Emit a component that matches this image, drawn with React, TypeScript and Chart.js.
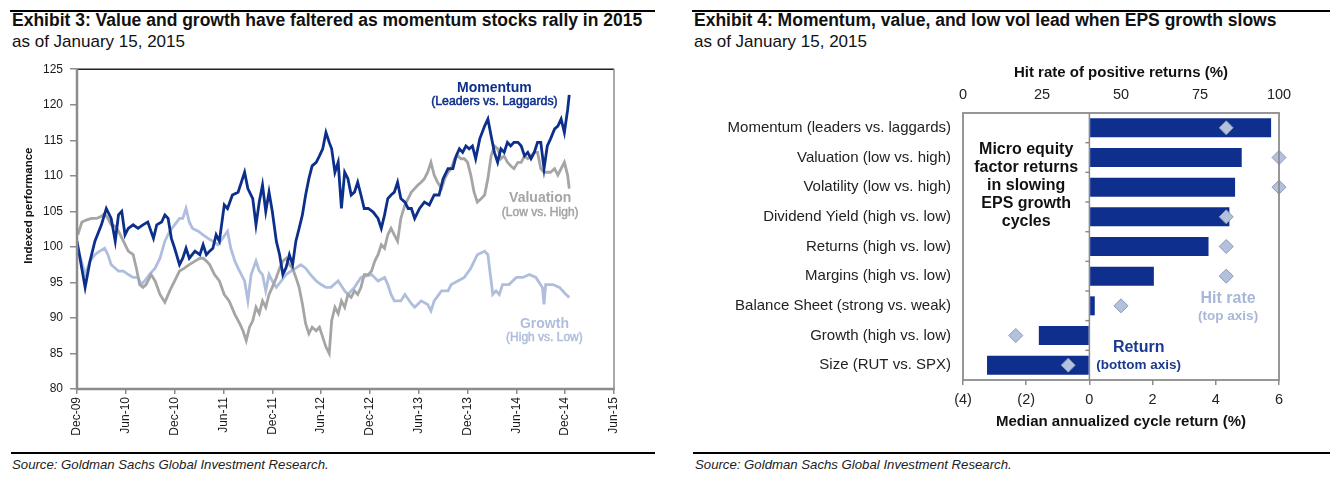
import React, { useEffect, useRef } from 'react';
import { Chart, registerables } from 'chart.js';

Chart.register(...registerables);

const FONT = '"Liberation Sans", Arial, Helvetica, sans-serif';
const NAVY = '#0d2f8c';
const VAL_GRAY = '#a5a5a5';
const GROWTH_BLUE = '#afbedc';
const HIT_BLUE = '#a9b7d7';
const AXIS_GRAY = '#8c8c8c';
const TEXT = '#1a1a1a';

// ---------- Exhibit 3 data (months since Dec-09, indexed level) ----------
const monthTickLabels = ['Dec-09', 'Jun-10', 'Dec-10', 'Jun-11', 'Dec-11', 'Jun-12', 'Dec-12', 'Jun-13', 'Dec-13', 'Jun-14', 'Dec-14', 'Jun-15'];

const momentumMonths = [0.0, 1.0, 1.6, 2.2, 3.0, 3.6, 4.2, 4.7, 5.1, 5.5, 5.9, 6.3, 6.9, 7.5, 8.1, 8.7, 9.4, 9.8, 10.4, 10.8, 11.2, 11.6, 12.0, 12.6, 13.0, 13.4, 13.8, 14.5, 15.1, 15.5, 15.9, 16.3, 16.7, 17.1, 17.5, 18.1, 18.5, 19.1, 19.8, 20.2, 20.6, 21.0, 21.6, 22.0, 22.4, 22.8, 23.2, 23.6, 24.0, 24.5, 24.9, 25.3, 25.7, 26.1, 26.5, 26.9, 27.3, 27.7, 28.1, 28.5, 28.9, 29.4, 29.8, 30.2, 30.6, 31.0, 31.3, 31.7, 32.1, 32.5, 32.9, 33.3, 33.7, 34.1, 34.5, 34.9, 35.3, 35.8, 36.4, 37.0, 37.4, 37.8, 38.2, 38.6, 39.0, 39.4, 39.8, 40.3, 40.7, 41.1, 41.5, 42.1, 42.7, 43.3, 43.9, 44.5, 45.0, 45.6, 46.2, 46.6, 47.0, 47.4, 47.8, 48.2, 48.6, 49.0, 49.5, 50.1, 50.5, 50.9, 51.3, 51.7, 52.1, 52.5, 52.9, 53.3, 53.7, 54.2, 54.6, 55.0, 55.4, 55.8, 56.2, 56.6, 57.0, 57.4, 57.8, 58.2, 58.7, 59.1, 59.5, 59.9, 60.3, 60.5];
const momentumValues = [100.8, 94.3, 98.0, 100.8, 103.1, 105.4, 104.0, 100.8, 104.5, 105.0, 101.7, 102.6, 103.1, 102.6, 103.1, 103.5, 101.2, 103.1, 103.5, 104.5, 104.0, 101.2, 99.8, 97.5, 98.4, 99.8, 98.4, 99.4, 98.9, 100.3, 98.9, 99.4, 99.8, 101.7, 100.8, 105.9, 105.4, 107.3, 107.7, 109.1, 110.5, 108.2, 106.8, 103.1, 106.3, 108.7, 105.0, 107.7, 105.0, 100.8, 98.9, 96.1, 97.1, 98.9, 97.5, 100.8, 102.6, 104.5, 107.3, 109.6, 111.4, 111.9, 112.8, 113.8, 116.1, 114.7, 113.8, 110.5, 111.9, 105.4, 110.5, 109.6, 107.3, 107.7, 109.1, 107.3, 105.4, 105.4, 104.9, 104.0, 102.6, 104.5, 106.8, 107.3, 107.7, 109.1, 106.8, 106.3, 105.4, 105.4, 104.0, 105.4, 106.3, 105.9, 107.3, 107.3, 109.6, 111.0, 111.0, 112.8, 113.8, 113.3, 114.2, 113.8, 114.2, 112.4, 115.2, 117.0, 118.0, 115.6, 113.3, 111.9, 113.8, 113.3, 114.7, 114.2, 114.7, 114.7, 114.2, 112.8, 113.3, 112.4, 113.3, 114.7, 114.7, 111.0, 114.2, 115.2, 116.6, 117.0, 118.0, 116.1, 119.3, 121.4];

const valuationMonths = [0.1, 0.6, 1.2, 1.8, 2.4, 3.0, 3.4, 3.8, 4.2, 4.7, 5.1, 5.7, 6.3, 6.9, 7.3, 7.7, 8.1, 8.5, 9.1, 9.6, 10.2, 10.8, 11.4, 12.0, 12.6, 13.2, 13.8, 14.5, 15.1, 15.5, 15.9, 16.3, 16.9, 17.5, 18.1, 18.7, 19.4, 20.0, 20.4, 20.8, 21.2, 21.6, 22.0, 22.4, 22.8, 23.2, 23.6, 24.0, 24.5, 24.9, 25.3, 25.7, 26.1, 26.5, 26.9, 27.3, 27.7, 28.1, 28.5, 28.9, 29.4, 29.8, 30.2, 30.6, 31.0, 31.3, 31.7, 32.1, 32.5, 32.9, 33.3, 33.7, 34.1, 34.5, 34.9, 35.3, 35.8, 36.2, 36.6, 37.0, 37.4, 37.8, 38.2, 38.6, 39.0, 39.4, 39.8, 40.3, 40.7, 41.1, 41.5, 41.9, 42.3, 42.7, 43.1, 43.5, 43.9, 44.3, 44.8, 45.2, 45.6, 46.0, 46.4, 46.8, 47.2, 47.6, 48.0, 48.4, 48.8, 49.2, 49.7, 50.1, 50.5, 50.9, 51.3, 51.7, 52.1, 52.5, 52.9, 53.3, 53.7, 54.2, 54.6, 55.0, 55.4, 55.8, 56.2, 56.6, 57.0, 57.4, 57.8, 58.2, 58.7, 59.1, 59.5, 59.9, 60.3, 60.5];
const valuationValues = [101.7, 103.5, 103.8, 104.0, 104.0, 104.3, 104.7, 104.0, 103.1, 102.9, 102.2, 100.8, 99.4, 98.9, 97.0, 94.7, 94.3, 94.7, 96.1, 95.2, 93.3, 92.2, 93.8, 95.2, 96.6, 97.0, 97.5, 98.0, 98.4, 98.4, 98.0, 97.5, 96.1, 95.2, 93.3, 92.4, 90.5, 89.2, 88.2, 86.8, 88.7, 89.6, 91.5, 90.6, 92.4, 91.5, 93.3, 94.3, 95.7, 97.0, 98.0, 98.4, 97.5, 97.0, 95.7, 94.3, 92.0, 89.2, 87.8, 88.7, 88.2, 88.7, 87.3, 85.9, 85.0, 89.6, 91.5, 90.6, 92.4, 91.5, 93.3, 92.9, 93.8, 93.3, 94.3, 96.1, 96.1, 96.6, 98.0, 98.9, 100.3, 99.8, 101.7, 102.6, 101.7, 100.8, 104.0, 105.9, 106.8, 107.7, 108.2, 108.7, 109.1, 109.6, 110.5, 111.9, 110.1, 109.1, 108.2, 109.6, 110.5, 111.0, 112.4, 112.8, 112.4, 112.4, 111.9, 110.1, 107.7, 106.3, 106.8, 107.3, 109.6, 112.8, 114.2, 113.8, 112.4, 112.8, 111.9, 111.4, 111.0, 111.9, 111.9, 112.8, 112.4, 112.8, 113.3, 113.3, 111.0, 110.5, 110.5, 110.5, 111.0, 110.1, 111.0, 111.9, 110.1, 108.2];

const growthMonths = [0.0, 1.0, 1.6, 2.2, 2.8, 3.4, 3.8, 4.2, 4.7, 5.1, 5.7, 6.3, 6.9, 7.5, 7.9, 8.3, 8.9, 9.6, 10.2, 10.8, 11.4, 12.0, 12.6, 13.0, 13.4, 13.8, 14.2, 14.9, 15.5, 16.1, 16.7, 17.3, 17.9, 18.5, 18.9, 19.4, 19.8, 20.2, 20.6, 21.0, 21.4, 22.0, 22.4, 22.8, 23.2, 23.6, 24.0, 24.5, 25.1, 25.7, 26.3, 26.9, 27.5, 28.1, 28.7, 29.4, 30.0, 30.6, 31.2, 32.1, 32.9, 33.3, 34.1, 34.9, 36.2, 37.0, 37.8, 38.2, 38.6, 39.0, 39.8, 40.3, 41.1, 41.5, 42.3, 43.1, 43.5, 43.9, 44.8, 45.6, 46.0, 46.8, 47.6, 48.4, 49.2, 50.1, 50.5, 50.7, 50.9, 51.1, 51.5, 51.9, 52.3, 53.1, 54.0, 54.8, 55.6, 56.4, 57.2, 57.4, 57.6, 58.5, 59.3, 60.1, 60.5];
const growthValues = [100.3, 96.1, 98.0, 98.9, 99.4, 99.8, 98.9, 97.5, 97.0, 96.6, 96.6, 96.1, 95.7, 95.7, 94.7, 95.2, 96.1, 97.0, 98.4, 100.8, 102.2, 103.1, 104.0, 104.0, 105.4, 103.5, 102.6, 102.2, 101.7, 101.2, 100.8, 100.3, 101.2, 102.2, 99.8, 98.0, 97.0, 96.1, 95.2, 92.4, 96.1, 98.0, 96.6, 96.1, 93.8, 96.1, 95.2, 94.3, 95.2, 96.1, 96.6, 97.0, 97.5, 97.0, 96.1, 95.2, 94.7, 94.3, 94.3, 95.2, 93.8, 93.3, 94.3, 95.7, 96.1, 95.2, 95.7, 94.7, 93.3, 92.4, 92.4, 93.3, 92.0, 91.5, 92.4, 91.9, 91.0, 92.4, 93.8, 93.8, 94.7, 95.2, 95.7, 97.0, 98.9, 99.4, 98.9, 97.0, 95.2, 93.3, 93.8, 93.3, 94.7, 94.7, 95.7, 95.7, 96.1, 95.7, 94.3, 91.9, 94.7, 94.7, 94.3, 93.3, 92.9];

// ---------- Exhibit 4 data ----------
const factorLabels = [
  'Momentum (leaders vs. laggards)',
  'Valuation (low vs. high)',
  'Volatility (low vs. high)',
  'Dividend Yield (high vs. low)',
  'Returns (high vs. low)',
  'Margins (high vs. low)',
  'Balance Sheet (strong vs. weak)',
  'Growth (high vs. low)',
  'Size (RUT vs. SPX)',
];
const medianCycleReturn = [5.75, 4.82, 4.61, 4.43, 3.77, 2.04, 0.17, -1.6, -3.24];
const hitRatePct = [83.3, 100, 100, 83.3, 83.3, 83.3, 50, 16.7, 33.3];
const sideNoteLines = ['Micro equity', 'factor returns', 'in slowing', 'EPS growth', 'cycles'];

function strokeLine(ctx: CanvasRenderingContext2D, x1: number, y1: number, x2: number, y2: number) {
  ctx.beginPath();
  ctx.moveTo(x1, y1);
  ctx.lineTo(x2, y2);
  ctx.stroke();
}

function Exhibit3Chart() {
  const ref = useRef<HTMLCanvasElement>(null);
  useEffect(() => {
    const toPts = (ms: number[], vs: number[]) => ms.map((m, i) => ({ x: m, y: vs[i] }));
    const framePlugin = {
      id: 'frame3',
      afterDatasetsDraw(chart: any) {
        const { ctx, chartArea: a } = chart;
        ctx.save();
        ctx.strokeStyle = '#222';
        ctx.lineWidth = 1.5;
        strokeLine(ctx, a.left, a.top, a.right, a.top);
        ctx.strokeStyle = AXIS_GRAY;
        strokeLine(ctx, a.right, a.top, a.right, a.bottom);
        ctx.lineWidth = 2.5;
        strokeLine(ctx, a.left, a.top - 0.75, a.left, a.bottom + 1);
        strokeLine(ctx, a.left - 1, a.bottom, a.right + 0.75, a.bottom);
        ctx.restore();
      },
    };
    const labelPlugin = {
      id: 'labels3',
      afterDraw(chart: any) {
        const { ctx } = chart;
        const xs = chart.scales.x;
        const ys = chart.scales.y;
        const put = (t: string, m: number, v: number, color: string, font: string, thicken = false) => {
          ctx.fillStyle = color;
          ctx.font = font;
          ctx.textAlign = 'center';
          ctx.textBaseline = 'middle';
          const px = xs.getPixelForValue(m);
          const py = ys.getPixelForValue(v);
          ctx.fillText(t, px, py);
          if (thicken) {
            ctx.strokeStyle = color;
            ctx.lineWidth = 0.5;
            ctx.strokeText(t, px, py);
          }
        };
        ctx.save();
        put('Momentum', 51.3, 122.35, NAVY, `bold 14px ${FONT}`);
        put('(Leaders vs. Laggards)', 51.3, 120.4, NAVY, `12.3px ${FONT}`, true);
        put('Valuation', 56.93, 106.8, VAL_GRAY, `bold 14px ${FONT}`);
        put('(Low vs. High)', 56.93, 104.85, VAL_GRAY, `12px ${FONT}`, true);
        put('Growth', 57.45, 89.15, GROWTH_BLUE, `bold 14px ${FONT}`);
        put('(High vs. Low)', 57.45, 87.15, GROWTH_BLUE, `12px ${FONT}`, true);
        // y-axis title
        const a = chart.chartArea;
        ctx.translate(a.left - 48, ys.getPixelForValue(105.8));
        ctx.rotate(-Math.PI / 2);
        ctx.fillStyle = '#111';
        ctx.font = `bold 11.5px ${FONT}`;
        ctx.fillText('Indexed performance', 0, 0);
        ctx.restore();
      },
    };
    const chart = new Chart(ref.current as HTMLCanvasElement, {
      type: 'line',
      data: {
        datasets: [
          { label: 'Momentum', data: toPts(momentumMonths, momentumValues), borderColor: NAVY, borderWidth: 2.8, pointRadius: 0, tension: 0 },
          { label: 'Valuation', data: toPts(valuationMonths, valuationValues), borderColor: VAL_GRAY, borderWidth: 2.8, pointRadius: 0, tension: 0 },
          { label: 'Growth', data: toPts(growthMonths, growthValues), borderColor: GROWTH_BLUE, borderWidth: 2.8, pointRadius: 0, tension: 0 },
        ],
      },
      options: {
        animation: false,
        responsive: false,
        devicePixelRatio: 1,
        events: [],
        layout: { padding: { top: 11, right: 46, left: 0, bottom: 0 } },
        plugins: { legend: { display: false }, tooltip: { enabled: false } },
        scales: {
          x: {
            type: 'linear',
            min: 0,
            max: 66,
            afterFit: (s: any) => { s.height = 56; },
            border: { display: false },
            grid: { drawOnChartArea: false, drawTicks: true, tickLength: 5, color: AXIS_GRAY, lineWidth: 1.5 },
            ticks: {
              stepSize: 6,
              autoSkip: false,
              maxRotation: 90,
              minRotation: 90,
              padding: 3,
              color: TEXT,
              font: { family: FONT, size: 12 },
              callback: (v: any) => monthTickLabels[Math.round(Number(v) / 6)] ?? '',
            },
          },
          y: {
            type: 'linear',
            min: 80,
            max: 125,
            afterFit: (s: any) => { s.width = 77; },
            border: { display: false },
            grid: { drawOnChartArea: false, drawTicks: true, tickLength: 7, color: AXIS_GRAY, lineWidth: 1.5 },
            ticks: { stepSize: 5, padding: 7, color: TEXT, font: { family: FONT, size: 12 } },
          },
        },
      },
      plugins: [framePlugin, labelPlugin],
    } as any);
    return () => chart.destroy();
  }, []);
  return <canvas ref={ref} width={660} height={390} style={{ position: 'absolute', left: 0, top: 55, width: 660, height: 390 }} />;
}

function Exhibit4Chart() {
  const ref = useRef<HTMLCanvasElement>(null);
  useEffect(() => {
    const zeroPlugin = {
      id: 'zero4',
      beforeDatasetsDraw(chart: any) {
        const { ctx, chartArea: a } = chart;
        const xs = chart.scales.x;
        const ys = chart.scales.y;
        const x0 = xs.getPixelForValue(0);
        ctx.save();
        ctx.strokeStyle = AXIS_GRAY;
        ctx.lineWidth = 1.5;
        strokeLine(ctx, x0, a.top, x0, a.bottom);
        for (let i = 1; i < factorLabels.length; i++) {
          const yb = (ys.getPixelForValue(i - 1) + ys.getPixelForValue(i)) / 2;
          strokeLine(ctx, x0 - 4, yb, x0, yb);
        }
        ctx.restore();
      },
    };
    const framePlugin = {
      id: 'frame4',
      afterDatasetsDraw(chart: any) {
        const { ctx, chartArea: a } = chart;
        ctx.save();
        ctx.strokeStyle = AXIS_GRAY;
        ctx.lineWidth = 1.8;
        ctx.strokeRect(a.left, a.top, a.right - a.left, a.bottom - a.top);
        ctx.restore();
      },
      afterDraw(chart: any) {
        const { ctx, chartArea: a } = chart;
        const xs = chart.scales.x;
        const ys = chart.scales.y;
        ctx.save();
        ctx.textAlign = 'center';
        ctx.textBaseline = 'middle';
        ctx.fillStyle = '#111';
        ctx.font = `bold 16px ${FONT}`;
        const cx = xs.getPixelForValue(-2);
        sideNoteLines.forEach((t, k) => {
          ctx.fillText(t, cx, a.top + 36.5 + k * 18.1);
        });
        ctx.fillStyle = HIT_BLUE;
        ctx.font = `bold 16px ${FONT}`;
        ctx.fillText('Hit rate', xs.getPixelForValue(4.39), ys.getPixelForValue(5.77));
        ctx.font = `bold 13.5px ${FONT}`;
        ctx.fillText('(top axis)', xs.getPixelForValue(4.39), ys.getPixelForValue(6.34));
        ctx.fillStyle = '#1b3a8f';
        ctx.font = `bold 16px ${FONT}`;
        ctx.fillText('Return', xs.getPixelForValue(1.56), ys.getPixelForValue(7.42));
        ctx.font = `bold 13.5px ${FONT}`;
        ctx.fillText('(bottom axis)', xs.getPixelForValue(1.56), ys.getPixelForValue(7.99));
        ctx.restore();
      },
    };
    const chart = new Chart(ref.current as HTMLCanvasElement, {
      type: 'bar',
      data: {
        labels: factorLabels,
        datasets: [
          {
            type: 'line',
            label: 'Hit rate',
            data: hitRatePct.map((v, i) => ({ x: v, y: factorLabels[i] })),
            xAxisID: 'x2',
            yAxisID: 'y',
            indexAxis: 'y',
            showLine: false,
            pointStyle: 'rectRot',
            pointRadius: 7,
            pointBackgroundColor: '#b4c1dd',
            pointBorderColor: '#8797bb',
            pointBorderWidth: 1,
            clip: false,
            order: 0,
          },
          {
            type: 'bar',
            label: 'Return',
            data: medianCycleReturn,
            xAxisID: 'x',
            yAxisID: 'y',
            backgroundColor: '#0e2f8d',
            borderWidth: 0,
            categoryPercentage: 1,
            barPercentage: 0.64,
            order: 1,
          },
        ],
      },
      options: {
        indexAxis: 'y',
        animation: false,
        responsive: false,
        devicePixelRatio: 1,
        events: [],
        layout: { padding: { top: 0, right: 56, left: 0, bottom: 0 } },
        plugins: { legend: { display: false }, tooltip: { enabled: false } },
        scales: {
          y: {
            type: 'category',
            position: 'left',
            afterFit: (s: any) => { s.width = 283; },
            border: { display: false },
            grid: { display: false, drawTicks: false },
            ticks: { autoSkip: false, padding: 12, color: '#222', font: { family: FONT, size: 15 } },
          },
          x: {
            type: 'linear',
            position: 'bottom',
            min: -4,
            max: 6,
            afterFit: (s: any) => { s.height = 60; },
            border: { display: false },
            grid: { drawOnChartArea: false, drawTicks: true, tickLength: 5, color: AXIS_GRAY, lineWidth: 1.5 },
            ticks: {
              stepSize: 2,
              padding: 6,
              color: '#222',
              font: { family: FONT, size: 14.5 },
              callback: (v: any) => (Number(v) < 0 ? `(${-Number(v)})` : `${v}`),
            },
            title: {
              display: true,
              text: 'Median annualized cycle return (%)',
              color: '#111',
              font: { family: FONT, size: 15, weight: 'bold' },
              padding: { top: 0, bottom: 9.5 },
            },
          },
          x2: {
            type: 'linear',
            position: 'top',
            min: 0,
            max: 100,
            afterFit: (s: any) => { s.height = 58; },
            border: { display: false },
            grid: { display: false, drawTicks: false },
            ticks: { stepSize: 25, padding: 9, color: '#222', font: { family: FONT, size: 14.5 } },
            title: {
              display: true,
              text: 'Hit rate of positive returns (%)',
              color: '#111',
              font: { family: FONT, size: 15, weight: 'bold' },
              padding: { top: 9, bottom: 0 },
            },
          },
        },
      },
      plugins: [zeroPlugin, framePlugin],
    } as any);
    return () => chart.destroy();
  }, []);
  return <canvas ref={ref} width={655} height={385} style={{ position: 'absolute', left: 680, top: 55, width: 655, height: 385 }} />;
}

const abs = (left: number, top: number, extra: React.CSSProperties = {}): React.CSSProperties => ({
  position: 'absolute',
  left,
  top,
  whiteSpace: 'nowrap',
  fontFamily: FONT,
  color: '#111',
  ...extra,
});

export default function App() {
  return (
    <div style={{ position: 'fixed', left: 0, top: 0, width: 1335, height: 477, background: '#fff', overflow: 'hidden' }}>
      {/* Exhibit 3 */}
      <div style={abs(10, 10, { width: 645, height: 2, background: '#000' })} />
      <div style={abs(12, 12.2, { fontSize: 17.5, lineHeight: '17.5px', fontWeight: 'bold' })}>
        Exhibit 3: Value and growth have faltered as momentum stocks rally in 2015
      </div>
      <div style={abs(12, 32.6, { fontSize: 17, lineHeight: '17px' })}>as of January 15, 2015</div>
      <Exhibit3Chart />
      <div style={abs(11, 452, { width: 644, height: 2, background: '#000' })} />
      <div style={abs(12, 458, { fontSize: 13.2, lineHeight: '13.2px', fontStyle: 'italic', color: '#222' })}>
        Source: Goldman Sachs Global Investment Research.
      </div>

      {/* Exhibit 4 */}
      <div style={abs(692, 10, { width: 638, height: 2, background: '#000' })} />
      <div style={abs(694, 12.2, { fontSize: 17.5, lineHeight: '17.5px', fontWeight: 'bold' })}>
        Exhibit 4: Momentum, value, and low vol lead when EPS growth slows
      </div>
      <div style={abs(694, 32.6, { fontSize: 17, lineHeight: '17px' })}>as of January 15, 2015</div>
      <Exhibit4Chart />
      <div style={abs(693, 452, { width: 637, height: 2, background: '#000' })} />
      <div style={abs(695, 458, { fontSize: 13.2, lineHeight: '13.2px', fontStyle: 'italic', color: '#222' })}>
        Source: Goldman Sachs Global Investment Research.
      </div>
    </div>
  );
}
